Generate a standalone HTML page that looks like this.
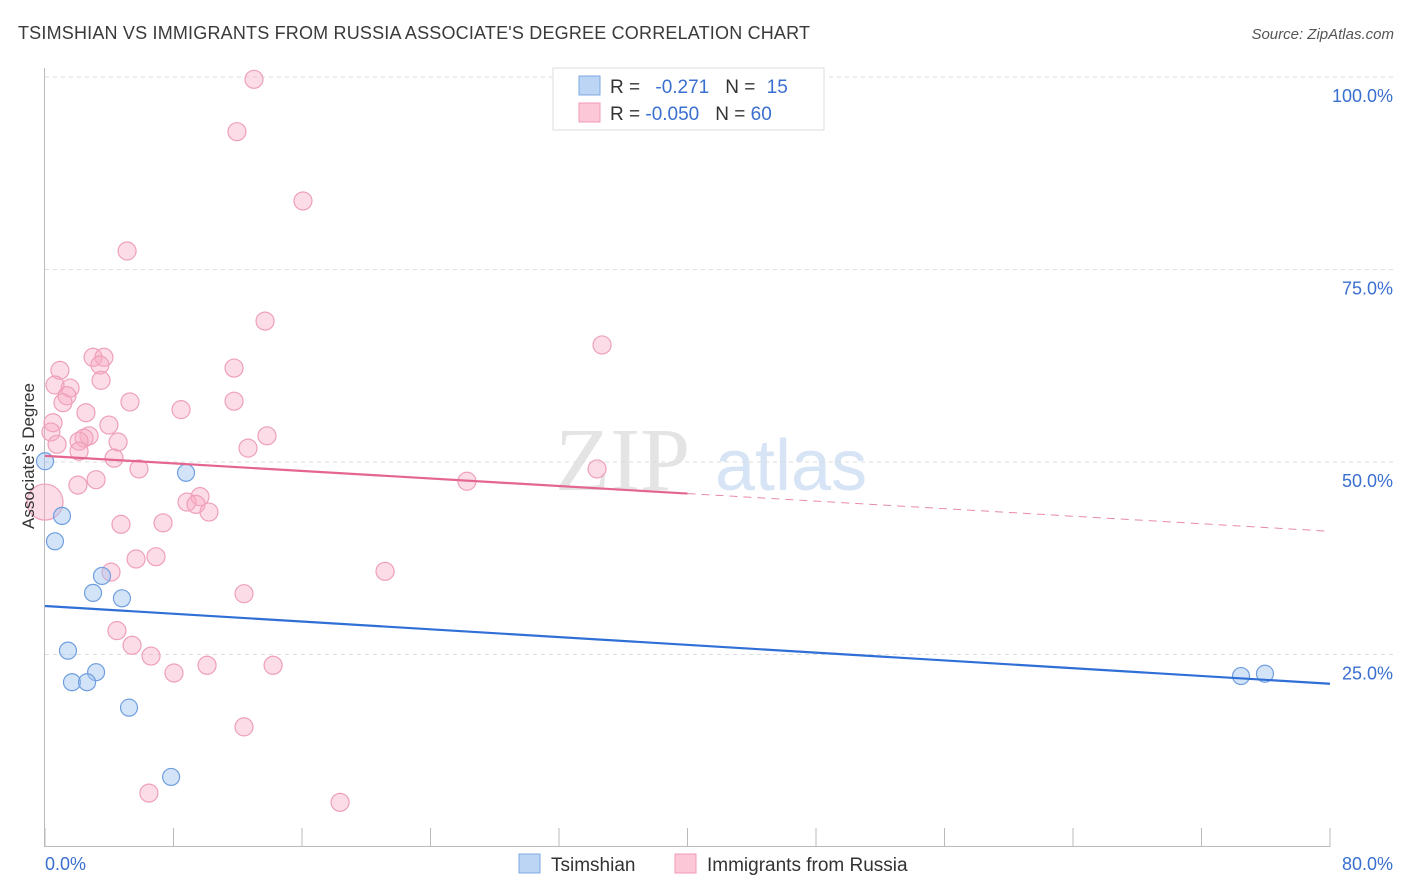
<!DOCTYPE html>
<html><head><meta charset="utf-8"><style>
body{margin:0;background:#fff;font-family:"Liberation Sans",sans-serif}
</style></head><body>
<svg id="chart" width="1406" height="892" xmlns="http://www.w3.org/2000/svg" style="display:block">
<text x="18" y="39" font-size="18" fill="#3a3a3a" textLength="792">TSIMSHIAN VS IMMIGRANTS FROM RUSSIA ASSOCIATE'S DEGREE CORRELATION CHART</text>
<text x="1394" y="39" font-size="15" fill="#555" text-anchor="end" font-style="italic">Source: ZipAtlas.com</text>
<text x="555" y="490" font-size="90" fill="#e4e4e4" font-family="Liberation Serif">ZIP</text>
<text x="715" y="490" font-size="72" fill="#d6e4f5">atlas</text>
<g id="grid"></g><g id="axes"></g><g id="marks"></g>
<text transform="translate(34,456) rotate(-90)" font-size="17" fill="#333" text-anchor="middle">Associate's Degree</text>
<g>
<rect x="553" y="68" width="271" height="62" fill="#fff" stroke="#ddd"/>
<rect x="579" y="76" width="21" height="19" fill="#bcd5f5" stroke="#7fa8e0"/>
<rect x="579" y="103" width="21" height="19" fill="#fcc8d8" stroke="#f09ab5"/>
<text x="610" y="93" font-size="19" fill="#333">R = <tspan fill="#3a6fd0" dx="10">-0.271</tspan><tspan fill="#333" dx="16">N = </tspan><tspan fill="#3a6fd0" dx="6">15</tspan></text>
<text x="610" y="120" font-size="19" fill="#333">R = <tspan fill="#3a6fd0">-0.050</tspan><tspan fill="#333" dx="16">N = </tspan><tspan fill="#3a6fd0">60</tspan></text>
</g>
<g>
<rect x="519" y="854" width="21" height="19" fill="#bcd5f5" stroke="#7fa8e0"/>
<text x="551" y="871" font-size="19" fill="#333">Tsimshian</text>
<rect x="675" y="854" width="21" height="19" fill="#fcc8d8" stroke="#f09ab5"/>
<text x="707" y="871" font-size="19" fill="#333">Immigrants from Russia</text>
</g>
</svg>
<script>
const xTicks=[0,8,16,24,32,40,48,56,64,72,80];
const yTicks=[25,50,75,100];
const blueX=[0,1.06,0.62,3.55,2.99,4.79,1.43,3.18,1.68,2.62,5.23,7.85,8.78,74.46,75.95];
const blueY=[50.1,43.0,39.7,35.2,33.0,32.3,25.5,22.7,21.4,21.4,18.1,9.1,48.6,22.2,22.5];
const pinkX=[13.01,11.95,16.06,5.11,13.70,34.68,2.99,3.67,0.93,11.77,3.42,3.49,1.56,0.62,1.37,1.12,5.29,11.77,8.47,2.55,0.50,3.98,0.37,2.74,2.43,2.12,4.55,13.82,0.75,2.12,12.64,4.30,5.85,34.37,26.27,3.18,2.05,0,9.65,8.84,9.40,10.21,4.73,7.35,6.91,5.67,4.11,21.17,12.39,4.48,5.42,6.60,8.03,10.09,14.20,12.39,6.47,18.37];
const pinkY=[99.7,92.9,83.9,77.4,68.3,65.2,63.6,63.6,61.9,62.2,62.6,60.6,59.6,60.0,58.6,57.7,57.8,57.9,56.8,56.4,55.1,54.8,53.9,53.4,53.1,52.7,52.6,53.4,52.3,51.4,51.8,50.5,49.1,49.1,47.5,47.7,47.0,44.8,45.5,44.8,44.5,43.5,41.9,42.1,37.7,37.4,35.7,35.8,32.9,28.1,26.2,24.8,22.6,23.6,23.6,15.6,7.0,5.8];
const blueTrend=[31.3,21.2];
const pinkTrend=[50.8,41.0];
const pinkSolidEnd=40;
const NS="http://www.w3.org/2000/svg";
const X=v=>45+v/80*1285, Y=v=>847-v/100*770;
function mk(t,a,p){const e=document.createElementNS(NS,t);for(const k in a)e.setAttribute(k,a[k]);document.getElementById(p).appendChild(e);return e;}
yTicks.forEach(t=>{
 const l=mk('line',{x1:45,x2:1394,y1:Y(t),y2:Y(t),stroke:'#ddd','stroke-dasharray':'4,4'},'grid');
 
 
 const tx=mk('text',{x:1393,y:Y(t)+25,'font-size':18,fill:'#3a6fd0','text-anchor':'end'},'axes');tx.textContent=t.toFixed(1)+'%';
 
 
});
const ax=mk('line',{x1:44.5,x2:44.5,y1:68,y2:847,stroke:'#bbb'},'axes');


const bx=mk('line',{x1:45,x2:1330,y1:846.5,y2:846.5,stroke:'#bbb'},'axes');


xTicks.forEach(t=>{
 const l=mk('line',{x1:X(t),x2:X(t),y1:828,y2:847,stroke:'#bbb'},'axes');
 
 
});
[[0,'0.0%','start',45],[80,'80.0%','end',1393]].forEach(([v,s,a,x])=>{
 const tx=mk('text',{x:x,y:870,'font-size':18,fill:'#3a6fd0','text-anchor':a},'axes');tx.textContent=s;
 
 
});
pinkX.forEach((x,i)=>{
 const c=mk('circle',{cx:X(x),cy:Y(pinkY[i]),r:(x===0&&pinkY[i]<46)?18:9,fill:'rgba(248,170,195,0.4)',stroke:'#eea0b8','stroke-width':1.2},'marks');
 
 
});
blueX.forEach((x,i)=>{
 const c=mk('circle',{cx:X(x),cy:Y(blueY[i]),r:8.5,fill:'rgba(160,195,240,0.45)',stroke:'#6f9ee0','stroke-width':1.2},'marks');
 
 
});
const pt=v=>pinkTrend[0]+(pinkTrend[1]-pinkTrend[0])*v/80;
let l1=mk('line',{x1:X(0),y1:Y(blueTrend[0]),x2:X(80),y2:Y(blueTrend[1]),stroke:'#2f6fd6','stroke-width':2.2},'marks');


let l2=mk('line',{x1:X(0),y1:Y(pt(0)),x2:X(pinkSolidEnd),y2:Y(pt(pinkSolidEnd)),stroke:'#e46690','stroke-width':2.2},'marks');


let l3=mk('line',{x1:X(pinkSolidEnd),y1:Y(pt(pinkSolidEnd)),x2:X(80),y2:Y(pt(80)),stroke:'#e88aa8','stroke-width':1,'stroke-dasharray':'8,6'},'marks');


</script>
</body></html>
